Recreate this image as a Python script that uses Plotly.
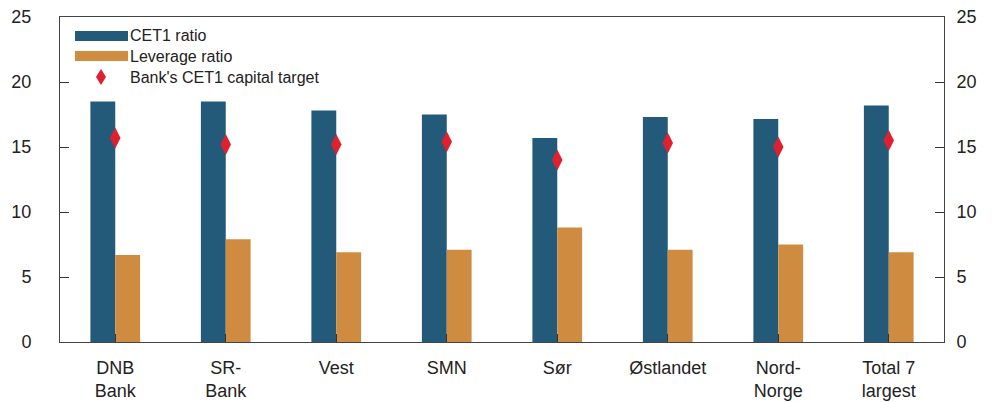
import plotly.graph_objects as go

categories = ["DNB<br>Bank", "SR-<br>Bank", "Vest", "SMN", "Sør", "Østlandet", "Nord-<br>Norge", "Total 7<br>largest"]
cet1_ratio = [18.5, 18.5, 17.8, 17.5, 15.7, 17.3, 17.15, 18.2]
leverage_ratio = [6.7, 7.9, 6.9, 7.1, 8.8, 7.1, 7.5, 6.9]
cet1_target = [15.7, 15.2, 15.2, 15.4, 14.0, 15.3, 15.0, 15.5]
y_ticks = [0, 5, 10, 15, 20, 25]

NAVY = "#235a7a"
ORANGE = "#cf8c41"
RED = "#e0202f"
FONT = "Liberation Sans, Arial, sans-serif"

fig = go.Figure()
fig.add_trace(go.Bar(x=categories, y=cet1_ratio, name="CET1 ratio",
                     marker=dict(color=NAVY, line=dict(width=0)), showlegend=False))
fig.add_trace(go.Bar(x=categories, y=leverage_ratio, name="Leverage ratio",
                     marker=dict(color=ORANGE, line=dict(width=0)), showlegend=False))
fig.add_trace(go.Scatter(x=categories, y=cet1_target, name="Bank's CET1 capital target",
                         mode="markers", yaxis="y2",
                         marker=dict(symbol="diamond-tall", size=15, color=RED),
                         showlegend=False))

# page is rendered with an 8px body margin; compensate so the plot area lands
# at page pixels x 60..944, y 17..342
OFF = 8
W, H = 995 - OFF, 402 - OFF
L, R, T, B = 60 - OFF, 51, 17 - OFF, 60
PL, PR, PT, PB = 60, 944, 17, 342
def px(x): return (x - PL) / (PR - PL)
def py(y): return (PB - y) / (PB - PT)

legend_items = [("CET1 ratio", NAVY, 36), ("Leverage ratio", ORANGE, 56)]
for txt, col, yc in legend_items:
    fig.add_shape(type="rect", xref="paper", yref="paper",
                  x0=px(75), x1=px(128), y0=py(yc + 5), y1=py(yc - 5),
                  fillcolor=col, line=dict(width=0))
    fig.add_annotation(xref="paper", yref="paper", x=px(128), y=py(yc),
                       text=txt, showarrow=False, xanchor="left", yanchor="middle",
                       font=dict(size=16, color="#222", family=FONT))
fig.add_shape(type="path", xref="paper", yref="paper",
              path=f"M {px(101)} {py(69)} L {px(106)} {py(77)} L {px(101)} {py(85)} L {px(96)} {py(77)} Z",
              fillcolor=RED, line=dict(width=0))
fig.add_annotation(xref="paper", yref="paper", x=px(128), y=py(77),
                   text="Bank's CET1 capital target", showarrow=False,
                   xanchor="left", yanchor="middle",
                   font=dict(size=16, color="#222", family=FONT))

axis_common = dict(range=[0, 25], tickvals=y_ticks, ticks="inside", ticklen=9,
                   tickcolor="#333", showgrid=False, zeroline=False,
                   showline=True, linecolor="#444", linewidth=1, automargin=False,
                   ticklabeloverflow="allow",
                   tickfont=dict(size=18, color="#222", family=FONT))

fig.update_layout(
    width=W, height=H,
    margin=dict(l=L, r=R, t=T, b=B, autoexpand=False),
    paper_bgcolor="white", plot_bgcolor="white",
    barmode="group", bargap=0.55, bargroupgap=0,
    font=dict(family=FONT),
    xaxis=dict(ticks="inside", ticklen=8, tickcolor="#333", showline=True,
               linecolor="#444", linewidth=1, mirror=True, showgrid=False,
               automargin=False, ticklabelstandoff=9, ticklabeloverflow="allow",
               tickfont=dict(size=18, color="#222", family=FONT)),
    yaxis=dict(side="left", ticklabelstandoff=24, **axis_common),
    yaxis2=dict(side="right", overlaying="y", ticklabelstandoff=8, **axis_common),
)

fig.write_html("out.html")
